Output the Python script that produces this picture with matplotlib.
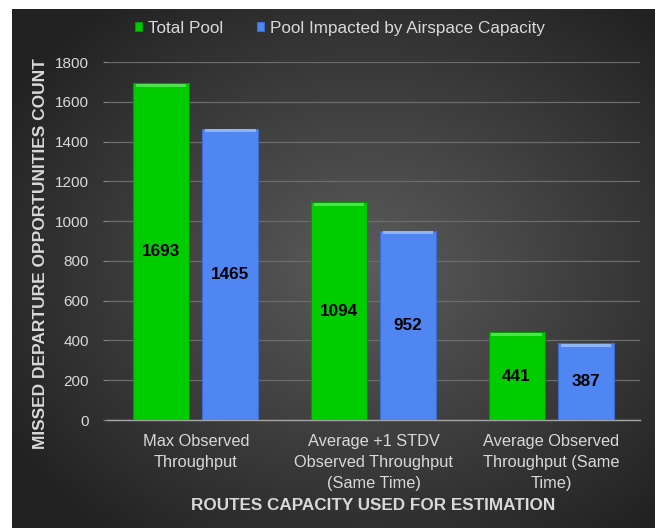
import numpy as np
import matplotlib
matplotlib.use("Agg")
import matplotlib.pyplot as plt

plt.rcParams['font.family'] = ['Liberation Sans', 'DejaVu Sans']

categories = ["Max Observed\nThroughput",
              "Average +1 STDV\nObserved Throughput\n(Same Time)",
              "Average Observed\nThroughput (Same\nTime)"]
total_pool = [1693, 1094, 441]
airspace_pool = [1465, 952, 387]
series_names = ["Total Pool", "Pool Impacted by Airspace Capacity"]

green = "#00cc00"
green_edge = "#009a00"
blue = "#4f86f2"
blue_edge = "#3a6cd0"
text_col = "#d9d9d9"

fig = plt.figure(figsize=(6.55, 5.28), dpi=100)
fig.patch.set_facecolor("white")

# dark panel with a soft radial glow in the middle
bg = fig.add_axes([12 / 655, 0, 1 - 12 / 655, 1 - 9 / 528])
yy, xx = np.mgrid[0:1:300j, 0:1:300j]
r = np.sqrt(((xx - 0.55) / 0.75) ** 2 + ((yy - 0.5) / 0.75) ** 2)
shade = np.clip(0.36 - 0.26 * r, 0.13, 0.36)
bg.imshow(np.dstack([shade] * 3), extent=[0, 1, 0, 1], aspect="auto",
          interpolation="bilinear")
bg.set_axis_off()

ax = fig.add_axes([107 / 655, 1 - 420 / 528, (640 - 107) / 655, (420 - 62) / 528])
ax.set_facecolor("none")

x = np.arange(len(categories))
width = 0.315
offset = 0.195

b1 = ax.bar(x - offset, total_pool, width, color=green, edgecolor=green_edge,
            linewidth=0.8, zorder=3, label=series_names[0])
b2 = ax.bar(x + offset, airspace_pool, width, color=blue, edgecolor=blue_edge,
            linewidth=0.8, zorder=3, label=series_names[1])

# light bevel along the top of each bar
for bars, hi in ((b1, "#4ee34e"), (b2, "#8fb4fa")):
    for rect in bars:
        ax.bar(rect.get_x() + rect.get_width() / 2, 14, rect.get_width() * 0.9,
               bottom=rect.get_height() - 18, color=hi, linewidth=0, zorder=4)

for bars in (b1, b2):
    for rect in bars:
        h = rect.get_height()
        ax.text(rect.get_x() + rect.get_width() / 2, h / 2, f"{h:.0f}",
                ha="center", va="center", fontsize=12.3, fontweight="bold",
                color="black", zorder=5)

ax.set_xlim(-0.5, 2.5)
ax.set_ylim(0, 1800)
ax.set_yticks(np.arange(0, 1801, 200))
ax.yaxis.grid(True, color="#6c6c6c", linewidth=0.9, zorder=0)
ax.set_axisbelow(True)

for s in ("top", "right", "left"):
    ax.spines[s].set_visible(False)
ax.spines["bottom"].set_color("#a6a6a6")
ax.spines["bottom"].set_linewidth(1.0)

ax.set_xticks(x)
ax.set_xticklabels(categories, fontsize=11.8, color=text_col, linespacing=1.5)
ax.tick_params(axis="x", length=0, pad=10)
ax.tick_params(axis="y", labelsize=11, labelcolor=text_col, color="#8a8a8a",
               length=3, width=0.8, pad=10)

ax.set_xlabel("ROUTES CAPACITY USED FOR ESTIMATION", fontsize=12.3,
              fontweight="bold", color=text_col, labelpad=5)
ax.set_ylabel("MISSED DEPARTURE OPPORTUNITIES COUNT", fontsize=12.5,
              fontweight="bold", color=text_col)
ax.yaxis.set_label_coords(-0.11, 0.465)

leg = ax.legend(loc="lower center", bbox_to_anchor=(0.437, 1.03), ncol=2,
                frameon=False, fontsize=12.3, handlelength=0.4, handleheight=0.4,
                handletextpad=0.35, columnspacing=1.95)
for t in leg.get_texts():
    t.set_color(text_col)

fig.savefig("out.png", dpi=100)
